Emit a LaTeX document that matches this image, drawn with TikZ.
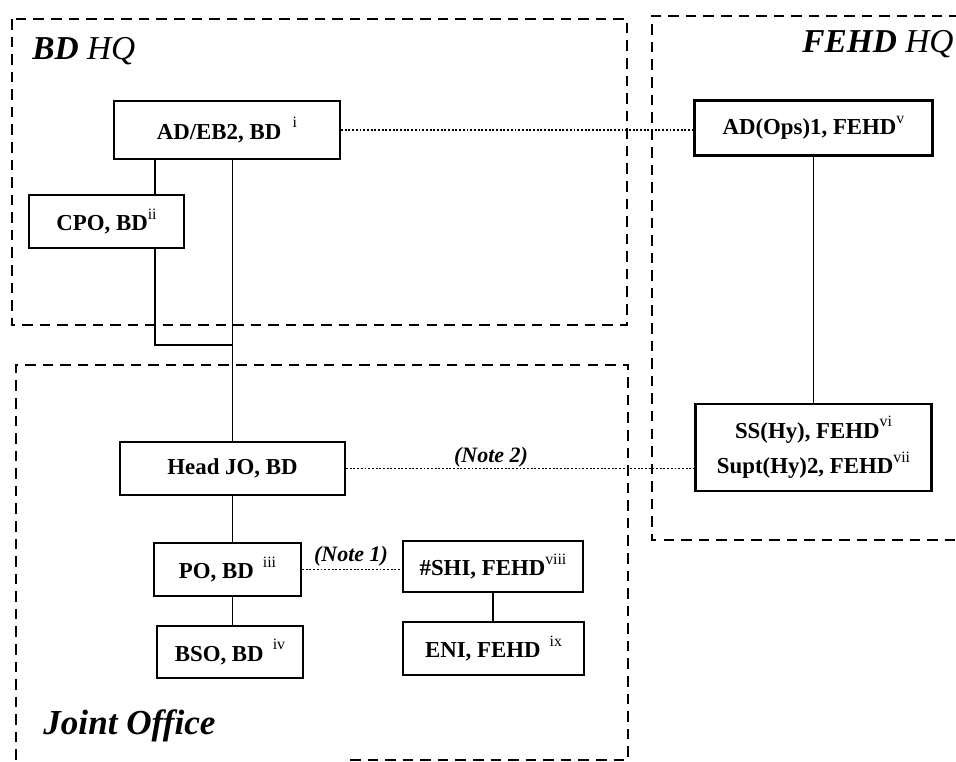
\documentclass[tikz,border=0pt]{standalone}
\usepackage{fontspec}
\setmainfont{Liberation Serif}
\usetikzlibrary{positioning}
\newcommand{\supmark}[1]{\raisebox{1.1ex}{\normalfont\fontsize{9}{9}\selectfont #1}}

\begin{document}
\begin{tikzpicture}[
    x=0.2mm, y=-0.2mm,
    every node/.style={
        font=\fontsize{13}{20}\selectfont\bfseries,
        inner sep=0pt
    },
    post/.style={draw, line width=1.2pt, align=center},
    region/.style={line width=1.5pt, dash pattern=on 6pt off 4pt},
    link/.style={draw, line width=0.9pt},
    dotlink/.style={draw, line width=1.1pt, dash pattern=on 1.1pt off 1pt},
    area/.style={font=\fontsize{19}{22}\selectfont\itshape, anchor=base west},
    note/.style={font=\fontsize{12.5}{15}\selectfont\bfseries\itshape}
]
\useasboundingbox (0,0) rectangle (956,762);

% the three offices
\draw[region] (12,19) rectangle (627,325);
\draw[region] (960,16) -- (652,16) -- (652,540) -- (960,540);
\draw[region] (350,760) -- (628,760) -- (628,365) -- (16,365) -- (16,765);

\node[area] (bdhq) at (32,60) {\textbf{BD} HQ};
\node[area] (fehdhq) at (802,53) {\textbf{FEHD} HQ};
\node[area, font=\fontsize{20}{22}\selectfont\bfseries\itshape] (joint) at (43,735) {Joint Office};

% posts
\node[post, minimum width=4.52cm, minimum height=1.16cm] (adeb) at (227,130) {AD/EB2, BD\hspace{0.5em}\supmark{i}};
\node[post, minimum width=3.10cm, minimum height=1.06cm] (cpo) at (106.5,221.5) {CPO, BD\supmark{ii}};
\node[post, minimum width=4.76cm, minimum height=1.10cm] (adops) at (813.5,128) {AD(Ops)1, FEHD\supmark{v}};
\node[post, minimum width=4.72cm, minimum height=1.74cm] (ss) at (813.5,447.5) {SS(Hy), FEHD\supmark{vi}\\Supt(Hy)2, FEHD\supmark{vii}};
\node[post, minimum width=4.50cm, minimum height=1.06cm] (headjo) at (232.5,468.5) {Head JO, BD};
\node[post, minimum width=2.94cm, minimum height=1.06cm] (po) at (227.5,569.5) {PO, BD\hspace{0.4em}\supmark{iii}};
\node[post, minimum width=2.92cm, minimum height=1.04cm] (bso) at (230,652) {BSO, BD\hspace{0.4em}\supmark{iv}};
\node[post, minimum width=3.60cm, minimum height=1.02cm] (shi) at (493,566.5) {\#SHI, FEHD\supmark{viii}};
\node[post, minimum width=3.62cm, minimum height=1.06cm] (eni) at (493.5,648.5) {ENI, FEHD\hspace{0.4em}\supmark{ix}};

% solid lines
\coordinate (join) at (155,345);
\draw[link] (adeb.south -| join) -- (cpo.north -| join);
\draw[link] (cpo.south -| join) -- (join) -- (join -| headjo.north);
\draw[link] (adeb.south -| headjo.north) -- (headjo.north);
\draw[link] (headjo.south) -- (headjo.south |- po.north);
\draw[link] (po.south -| headjo.south) -- (bso.north -| headjo.south);
\draw[link] (adops.south) -- (ss.north);
\draw[link] (shi.south) -- (shi.south |- eni.north);

% dotted lines
\draw[dotlink] (adeb.east) -- (adeb.east -| adops.west);
\draw[dotlink] (headjo.east) -- (headjo.east -| ss.west);
\draw[dotlink] (po.east) -- (po.east -| shi.west);

\node[note] (note2) at (491,457) {(Note 2)};
\node[note] (note1) at (351,556) {(Note 1)};

\end{tikzpicture}
\end{document}
